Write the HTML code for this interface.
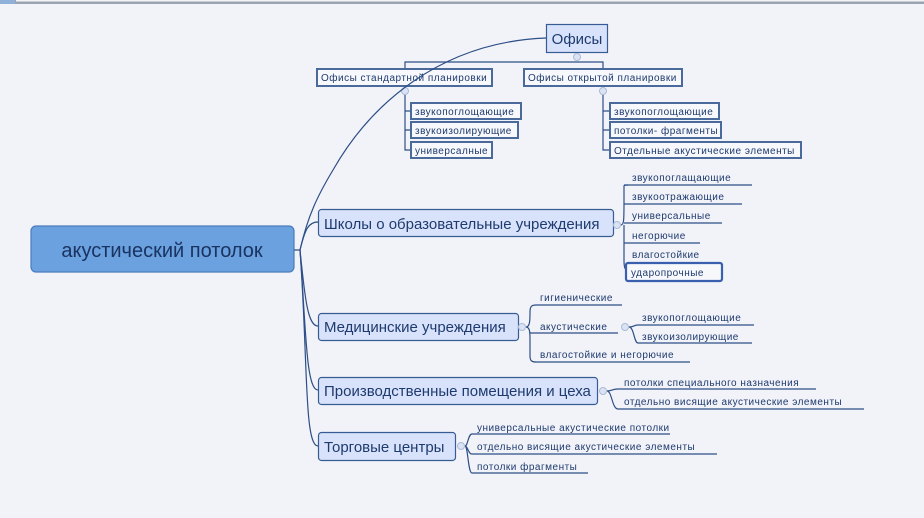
<!DOCTYPE html>
<html><head><meta charset="utf-8"><style>
html,body{margin:0;padding:0;background:#f2f3f9;}
svg{display:block;font-family:"Liberation Sans","DejaVu Sans",sans-serif;}
.s{font-size:10px;fill:#1e3a6e;letter-spacing:0.5px}
.b{fill:#d8e3fb;stroke:#375b93;stroke-width:1.2}
.o{fill:#f7f8fc;stroke:#4a6a9c;stroke-width:2}
.l{fill:none;stroke:#2d4f86;stroke-width:1.2}
.u{stroke:#2d4f86;stroke-width:1.2}
.c{fill:#dbe3f3;stroke:#a9bbd9;stroke-width:1}
.m{font-size:15px;fill:#1e3a6e}
</style></head><body>
<svg width="924" height="518" viewBox="0 0 924 518">
<rect x="0" y="0" width="924" height="4" fill="#9aa4b4"/>
<rect x="0" y="0" width="15" height="4" fill="#8fb0d8"/>
<rect x="16" y="0" width="908" height="1.5" fill="#f4f4f4"/>

<!-- root connectors -->
<path class="l" d="M300,250 C305,230 308,222 318,222"/>
<path class="l" d="M300,250 C305,300 308,326 318,326"/>
<path class="l" d="M300,250 C306,330 306,390 318,390"/>
<path class="l" d="M300,250 C308,360 304,446 318,446"/>

<!-- root -->
<rect x="31" y="226" width="263" height="46" rx="5" fill="#6aa1de" stroke="#4a7cbc" stroke-width="1.2"/>
<text x="162" y="257" text-anchor="middle" font-size="20" fill="#1a3362">акустический потолок</text>

<!-- Офисы -->
<rect class="b" x="546.5" y="24.5" width="61" height="28"/>
<text x="577" y="44" text-anchor="middle" font-size="15" fill="#1e3a6e">Офисы</text>
<path class="l" d="M405,69 V62 H603 V69"/>
<circle class="c" cx="577" cy="57" r="3.5"/>
<rect class="o" x="317" y="69" width="175" height="17"/>
<text class="s" x="321" y="81">Офисы стандартной планировки</text>
<rect class="o" x="524" y="69" width="158" height="17"/>
<text class="s" x="528" y="81">Офисы открытой планировки</text>
<circle class="c" cx="405" cy="91" r="3.5"/>
<circle class="c" cx="603" cy="91" r="3.5"/>
<path class="l" d="M405,95 V150 H411 M405,111 H411 M405,130 H411"/>
<path class="l" d="M603,95 V150 H610 M603,111 H610 M603,130 H610"/>
<rect class="o" x="411" y="103" width="110" height="16"/><text class="s" x="415" y="115">звукопоглощающие</text>
<rect class="o" x="411" y="122" width="107" height="16"/><text class="s" x="415" y="134">звукоизолирующие</text>
<rect class="o" x="411" y="142" width="81" height="16"/><text class="s" x="415" y="154">универсалные</text>
<rect class="o" x="610" y="103" width="109" height="16"/><text class="s" x="614" y="115">звукопоглощающие</text>
<rect class="o" x="610" y="122" width="111" height="16"/><text class="s" x="614" y="134">потолки- фрагменты</text>
<rect class="o" x="610" y="142" width="191" height="16"/><text class="s" x="614" y="154">Отдельные акустические элементы</text>

<!-- Школы -->
<rect class="b" x="318.5" y="209.5" width="295" height="27" rx="3"/>
<text class="m" x="324" y="229">Школы о образовательные учреждения</text>
<circle class="c" cx="617" cy="225" r="3.5"/>
<path class="l" d="M621,225 C624,225 624,220 624,200 V186 C624,185 625,185 628,185 M624,225 V260 C624,268 625,270 628,270"/>
<path class="u" d="M624,204 H742 M624,223 H722 M624,243 H700 M624,185 H752"/>
<text class="s" x="632" y="181">звукопоглащающие</text>
<text class="s" x="632" y="200">звукоотражающие</text>
<text class="s" x="632" y="219">универсальные</text>
<text class="s" x="632" y="239">негорючие</text>
<text class="s" x="632" y="258">влагостойкие</text>
<rect x="626" y="263" width="96" height="18" rx="2" fill="#f7f8fc" stroke="#3a5fae" stroke-width="2.2"/>
<text class="s" x="631" y="276">ударопрочные</text>

<!-- Медицинские -->
<rect class="b" x="318.5" y="313.5" width="200" height="27" rx="3"/>
<text class="m" x="324" y="332">Медицинские учреждения</text>
<circle class="c" cx="522" cy="327" r="3.5"/>
<path class="l" d="M526,327 C530,327 530,320 530,312 C530,306 532,305 536,305 H622 M526,327 C530,327 530,333 530,340 V356 C530,361 532,362 536,362 H690 M530,333 H618"/>
<text class="s" x="540" y="301">гигиенические</text>
<text class="s" x="540" y="330">акустические</text>
<circle class="c" cx="625" cy="327" r="3.5"/>
<path class="l" d="M629,327 C634,327 634,325 638,325 H754 M629,327 C634,327 634,343 638,343 H752"/>
<text class="s" x="642" y="321">звукопоглощающие</text>
<text class="s" x="642" y="340">звукоизолирующие</text>
<text class="s" x="540" y="358">влагостойкие и негорючие</text>

<!-- Производственные -->
<rect class="b" x="318.5" y="377.5" width="279" height="27" rx="3"/>
<text class="m" x="324" y="396">Производственные помещения и цеха</text>
<circle class="c" cx="603" cy="391" r="3.5"/>
<path class="l" d="M607,391 C612,391 612,389 618,389 H816 M607,391 C612,391 612,409 618,409 H864"/>
<text class="s" x="624" y="386">потолки специального назначения</text>
<text class="s" x="624" y="405">отдельно висящие акустические элементы</text>

<!-- Торговые -->
<rect class="b" x="318.5" y="432.5" width="137" height="28" rx="3"/>
<text class="m" x="324" y="452">Торговые центры</text>
<circle class="c" cx="461" cy="446" r="3.5"/>
<path class="l" d="M465,446 C468,446 468,434 472,434 H670 M465,446 C468,446 468,454 472,454 H717 M465,446 C468,446 468,473 472,473 H588"/>
<text class="s" x="477" y="431">универсальные акустические потолки</text>
<text class="s" x="477" y="450">отдельно висящие акустические элементы</text>
<text class="s" x="477" y="470">потолки фрагменты</text>

<!-- big curve on top -->
<path class="l" d="M294,250 H300 C308,215 318,195 333,170 C370,105 440,42 546,38"/>
</svg>
</body></html>
